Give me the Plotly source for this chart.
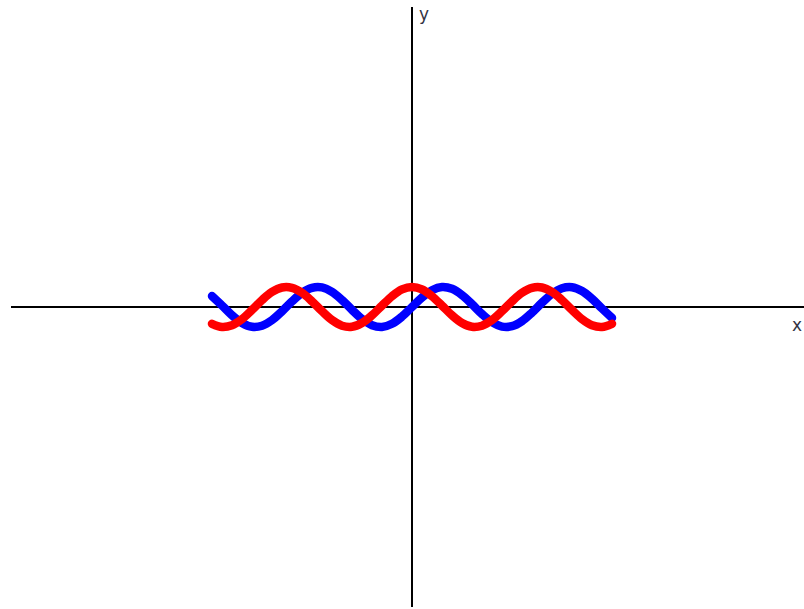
import plotly.graph_objects as go

x_vals = [-10, -9.5, -9, -8.5, -8, -7.5, -7, -6.5, -6, -5.5, -5, -4.5, -4, -3.5, -3, -2.5, -2, -1.5, -1, -0.5,
          0, 0.5, 1, 1.5, 2, 2.5, 3, 3.5, 4, 4.5, 5, 5.5, 6, 6.5, 7, 7.5, 8, 8.5, 9, 9.5, 10]

blue_vals = [0.544, 0.075, -0.412, -0.798, -0.989, -0.938, -0.657, -0.215, 0.279, 0.706, 0.959, 0.978, 0.757,
             0.351, -0.141, -0.598, -0.909, -0.997, -0.841, -0.479,
             0.0, 0.479, 0.841, 0.997, 0.909, 0.598, 0.141, -0.351, -0.757, -0.978, -0.959, -0.706, -0.279,
             0.215, 0.657, 0.938, 0.989, 0.798, 0.412, -0.075, -0.544]

red_vals = [-0.839, -0.997, -0.911, -0.602, -0.146, 0.347, 0.754, 0.977, 0.960, 0.709, 0.284, -0.211, -0.654,
            -0.936, -0.990, -0.801, -0.416, 0.071, 0.540, 0.878,
            1.0, 0.878, 0.540, 0.071, -0.416, -0.801, -0.990, -0.936, -0.654, -0.211, 0.284, 0.709, 0.960,
            0.977, 0.754, 0.347, -0.146, -0.602, -0.911, -0.997, -0.839]

x_range = [-20.05, 19.6]
y_range = [-15, 15]

fig = go.Figure()
fig.add_trace(go.Scatter(x=x_vals, y=blue_vals, mode="lines",
                         line=dict(color="#0000ff", width=8.5, shape="spline"), hoverinfo="skip"))
fig.add_trace(go.Scatter(x=x_vals, y=red_vals, mode="lines",
                         line=dict(color="#ff0000", width=8.5, shape="spline"), hoverinfo="skip"))

axis_common = dict(showgrid=False, showticklabels=False, ticks="", showline=False,
                   zeroline=True, zerolinecolor="#000000", zerolinewidth=2, fixedrange=True)

fig.update_layout(
    width=804, height=609,
    margin=dict(l=11, r=0, t=7, b=2),
    paper_bgcolor="white", plot_bgcolor="white",
    showlegend=False,
    xaxis=dict(range=x_range, **axis_common),
    yaxis=dict(range=y_range, **axis_common),
    annotations=[
        dict(text="y", xref="x", yref="paper", x=0, y=1, xanchor="left", yanchor="top",
             xshift=5, yshift=5, showarrow=False,
             font=dict(family="DejaVu Sans", size=17, color="#333344")),
        dict(text="x", xref="paper", yref="y", x=1, y=0, xanchor="right", yanchor="top",
             xshift=0, yshift=-6, showarrow=False,
             font=dict(family="DejaVu Sans", size=17, color="#333344")),
    ],
)

fig.write_html(
    "out.html",
    config={"displayModeBar": False, "staticPlot": True},
    post_script=(
        "document.body.style.margin='0';"
        "document.documentElement.style.overflow='hidden';"
        "document.querySelectorAll('.scatterlayer path.js-line').forEach(function(p){"
        "p.style.strokeLinecap='round';p.style.strokeLinejoin='round';});"
    ),
)
